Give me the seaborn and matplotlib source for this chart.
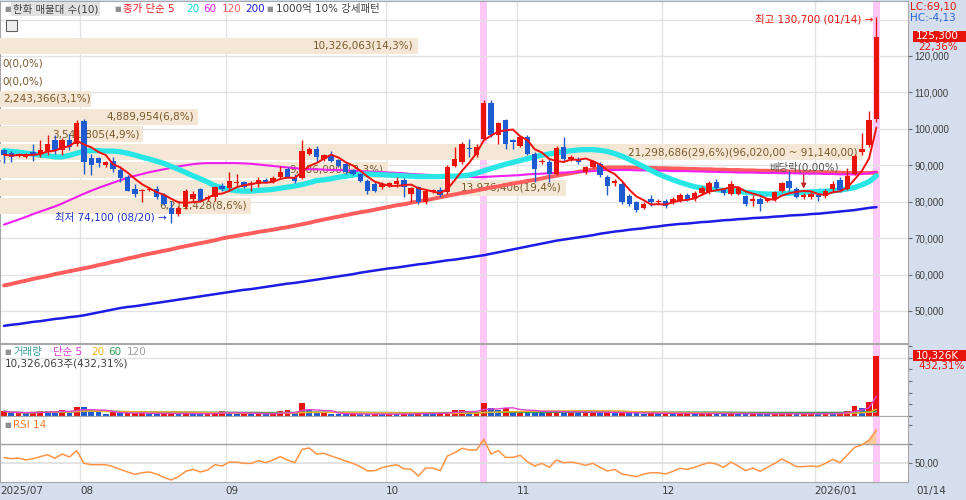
import numpy as np
import pandas as pd
import seaborn as sns
import matplotlib.pyplot as plt
from matplotlib.patches import Rectangle

sns.set_style('white')
plt.rcParams['font.family'] = ['DejaVu Sans', 'Noto Sans CJK KR']

W, H = 966, 500

# 일봉 (천원 단위), 2025/07/17 ~ 2026/01/14
open_k = [94.3, 93.3, 92.7, 92.2, 93.6, 93.1, 93.6, 96.8, 94.1, 96.8,
          95.9, 102.1, 92.0, 92.0, 90.1, 91.3, 88.8, 86.9, 83.5, 83.0,
          83.2, 83.5, 81.9, 78.3, 76.6, 78.6, 80.7, 83.5, 80.7, 81.2,
          84.4, 83.8, 85.1, 85.3, 84.9, 84.9, 86.0, 85.3, 86.7, 89.0,
          86.9, 86.5, 93.1, 94.5, 91.8, 92.7, 91.5, 90.4, 88.7, 87.6,
          85.8, 84.9, 84.0, 84.4, 84.9, 86.0, 82.1, 84.0, 79.8, 82.9,
          83.2, 82.6, 89.9, 90.8, 94.8, 92.7, 97.3, 107.1, 98.2, 102.5,
          96.8, 95.4, 97.7, 93.0, 90.8, 90.8, 87.6, 95.0, 91.8, 91.8,
          88.1, 89.6, 90.4, 86.7, 85.1, 84.9, 81.5, 79.8, 78.3, 80.7,
          79.8, 80.3, 79.8, 80.3, 81.9, 80.7, 82.3, 82.6, 85.5, 83.2,
          82.1, 82.1, 81.5, 80.3, 80.7, 80.1, 80.7, 82.9, 85.8, 83.5,
          81.4, 81.2, 81.9, 81.6, 83.5, 86.0, 83.5, 87.7, 93.7, 95.6,
          102.6]
high_k = [94.6, 94.0, 93.5, 93.3, 95.9, 96.8, 98.2, 98.2, 97.5, 98.6,
          102.3, 102.8, 93.1, 92.4, 91.3, 92.2, 89.9, 87.4, 84.9, 83.5,
          84.0, 84.4, 82.5, 80.3, 78.8, 83.5, 82.8, 83.8, 81.7, 84.4,
          85.0, 88.1, 87.6, 85.8, 85.8, 86.7, 86.5, 87.0, 89.9, 89.5,
          87.5, 96.8, 95.0, 95.4, 93.1, 93.9, 91.8, 90.8, 89.0, 88.0,
          86.2, 85.3, 85.3, 85.5, 86.7, 86.5, 84.0, 84.4, 83.5, 83.5,
          84.0, 90.0, 95.0, 96.4, 97.3, 95.9, 107.8, 107.8, 101.9, 102.8,
          97.3, 98.2, 98.2, 93.6, 91.8, 91.8, 95.4, 97.7, 92.9, 92.2,
          89.9, 91.5, 90.8, 87.2, 86.2, 85.3, 82.0, 80.3, 79.8, 81.7,
          80.7, 80.7, 81.2, 82.3, 82.3, 82.8, 84.4, 85.8, 86.2, 83.8,
          85.8, 84.4, 81.9, 81.7, 81.2, 81.0, 83.0, 85.5, 88.5, 83.9,
          82.3, 82.6, 82.3, 83.5, 85.6, 86.7, 89.3, 93.0, 98.9, 104.9,
          130.7]
low_k = [90.5, 90.8, 92.3, 91.9, 91.3, 92.2, 92.7, 93.1, 92.7, 94.1,
         95.4, 87.6, 87.4, 89.6, 89.5, 88.1, 85.3, 82.8, 81.2, 79.8,
         82.8, 80.7, 79.0, 74.1, 76.2, 78.0, 80.2, 79.8, 80.2, 80.3,
         83.0, 83.0, 84.4, 83.7, 83.0, 84.0, 85.0, 85.0, 86.3, 86.5,
         85.0, 86.2, 92.7, 90.8, 91.3, 90.8, 89.5, 87.6, 87.2, 85.3,
         82.1, 82.6, 83.5, 84.0, 84.0, 81.4, 79.8, 79.5, 79.5, 82.5,
         81.2, 82.0, 89.5, 90.4, 92.2, 92.2, 96.8, 97.7, 95.9, 94.5,
         94.5, 95.0, 92.7, 85.3, 90.4, 85.3, 87.2, 91.3, 91.3, 90.4,
         87.6, 89.2, 86.7, 81.7, 84.4, 79.4, 78.9, 77.3, 77.9, 78.9,
         79.4, 78.4, 79.4, 79.8, 80.3, 80.3, 81.9, 82.1, 83.3, 81.9,
         81.7, 81.7, 78.9, 78.9, 77.5, 79.8, 80.3, 82.6, 83.0, 81.0,
         80.7, 80.7, 80.3, 80.9, 82.6, 82.6, 83.2, 87.2, 92.8, 95.1,
         101.8]
close_k = [92.9, 92.4, 93.1, 92.9, 92.9, 94.1, 95.9, 94.2, 97.0, 95.0,
           101.6, 90.8, 90.2, 90.6, 90.8, 89.0, 86.5, 83.0, 82.1, 83.3,
           83.5, 81.2, 79.4, 76.6, 78.4, 82.8, 82.1, 80.3, 81.2, 84.0,
           83.5, 85.8, 85.3, 84.1, 85.1, 86.0, 85.5, 86.5, 88.1, 86.9,
           85.6, 93.9, 94.5, 92.2, 92.7, 91.3, 89.9, 88.1, 87.6, 85.8,
           83.0, 83.0, 84.9, 85.0, 85.8, 84.0, 83.8, 79.8, 83.0, 83.2,
           81.9, 89.5, 91.8, 95.9, 94.5, 95.0, 107.1, 98.2, 101.6, 95.9,
           96.3, 97.7, 93.1, 89.0, 91.3, 87.6, 94.8, 91.8, 92.4, 90.8,
           89.5, 91.1, 87.2, 84.4, 85.8, 79.8, 79.4, 77.7, 79.4, 79.8,
           80.3, 78.9, 80.7, 81.9, 80.7, 82.3, 83.8, 85.1, 83.8, 82.3,
           84.9, 83.8, 79.4, 80.7, 79.4, 80.6, 82.6, 85.1, 83.8, 81.4,
           81.8, 82.1, 81.2, 82.9, 84.9, 83.2, 87.0, 92.5, 94.5, 102.4,
           125.3]
# 거래량 (천주)
volume_k = [820, 480, 520, 450, 700, 820, 800, 700, 1100, 480,
            1600, 1500, 780, 760, 360, 620, 450, 480, 500, 520,
            360, 340, 420, 600, 360, 460, 340, 320, 450, 640,
            780, 460, 400, 450, 400, 460, 300, 350, 780, 950,
            460, 2300, 950, 460, 480, 400, 350, 340, 400, 300,
            290, 350, 300, 350, 330, 400, 350, 560, 450, 400,
            450, 720, 950, 1000, 620, 700, 2300, 1400, 1050, 1400,
            850, 900, 850, 780, 660, 750, 800, 680, 720, 620,
            660, 700, 580, 640, 520, 580, 550, 470, 420, 500,
            450, 530, 400, 420, 450, 400, 420, 470, 400, 380,
            420, 400, 380, 420, 400, 350, 380, 400, 450, 380,
            400, 420, 380, 450, 420, 550, 900, 1740, 1450, 2388.6,
            10326.063]
# 이동평균 (천원)
ma20_k = [94.0, 93.8, 93.6, 93.3, 93.1, 92.8, 92.6, 92.3, 92.3, 92.7,
          93.3, 93.9, 94.0, 94.0, 93.9, 93.9, 93.7, 93.3, 92.8, 92.2,
          91.7, 91.1, 90.5, 89.7, 88.9, 88.0, 87.1, 86.3, 85.4, 84.4,
          83.8, 83.3, 83.0, 82.9, 82.9, 83.1, 83.2, 83.4, 83.7, 84.0,
          84.3, 84.7, 85.2, 85.8, 86.0, 86.3, 86.7, 87.0, 87.3, 87.6,
          87.6, 87.5, 87.4, 87.3, 87.2, 87.1, 87.0, 86.9, 86.9, 86.9,
          86.9, 87.0, 87.0, 87.1, 87.3, 87.8, 88.5, 89.1, 89.7, 90.3,
          90.8, 91.3, 91.8, 92.3, 92.8, 93.1, 93.4, 93.7, 94.0, 94.2,
          94.3, 94.3, 94.1, 93.8, 93.2, 92.5, 91.6, 90.6, 89.6, 88.6,
          87.6, 86.8, 86.0, 85.3, 84.7, 84.1, 83.8, 83.5, 83.3, 83.1,
          83.0, 82.8, 82.6, 82.4, 82.2, 82.1, 82.1, 82.2, 82.3, 82.5,
          82.6, 82.7, 82.8, 82.9, 83.0, 83.2, 83.5, 83.9, 84.6, 85.5,
          87.1]
ma60_k = [73.7, 74.4, 75.1, 75.8, 76.6, 77.3, 78.0, 78.7, 79.5, 80.4,
          81.3, 82.2, 83.0, 83.8, 84.5, 85.2, 85.9, 86.6, 87.1, 87.6,
          88.1, 88.5, 88.9, 89.3, 89.7, 90.0, 90.3, 90.5, 90.6, 90.6,
          90.6, 90.6, 90.6, 90.5, 90.4, 90.2, 90.0, 89.8, 89.6, 89.4,
          89.2, 89.0, 88.9, 88.9, 88.8, 88.7, 88.7, 88.6, 88.5, 88.4,
          88.3, 88.2, 88.1, 88.0, 87.9, 87.8, 87.6, 87.5, 87.4, 87.3,
          87.2, 87.1, 87.0, 86.9, 86.8, 86.7, 86.8, 86.9, 87.0, 87.1,
          87.2, 87.3, 87.5, 87.6, 87.7, 87.8, 87.9, 88.0, 88.1, 88.2,
          88.3, 88.4, 88.6, 88.7, 88.7, 88.7, 88.7, 88.6, 88.6, 88.6,
          88.5, 88.5, 88.4, 88.4, 88.4, 88.3, 88.3, 88.2, 88.2, 88.1,
          88.1, 88.0, 88.0, 88.0, 87.9, 87.9, 87.9, 87.8, 87.8, 87.8,
          87.7, 87.7, 87.7, 87.6, 87.6, 87.5, 87.5, 87.5, 87.6, 87.8,
          88.2]
ma120_k = [57.0, 57.4, 57.9, 58.3, 58.8, 59.2, 59.6, 60.1, 60.5, 60.9,
           61.3, 61.7, 62.1, 62.6, 63.0, 63.5, 63.9, 64.4, 64.8, 65.3,
           65.7, 66.1, 66.5, 66.9, 67.4, 67.8, 68.2, 68.6, 69.0, 69.4,
           69.9, 70.3, 70.6, 71.0, 71.3, 71.7, 72.0, 72.3, 72.7, 73.0,
           73.4, 73.8, 74.2, 74.7, 75.1, 75.5, 75.9, 76.3, 76.7, 77.1,
           77.4, 77.8, 78.2, 78.6, 79.0, 79.3, 79.7, 80.1, 80.4, 80.8,
           81.2, 81.6, 82.0, 82.4, 82.7, 83.1, 83.5, 83.9, 84.2, 84.6,
           85.0, 85.3, 85.7, 86.0, 86.4, 86.8, 87.1, 87.5, 87.8, 88.2,
           88.5, 88.9, 89.2, 89.4, 89.4, 89.4, 89.4, 89.3, 89.3, 89.3,
           89.2, 89.2, 89.1, 89.1, 89.0, 89.0, 88.9, 88.9, 88.8, 88.8,
           88.7, 88.7, 88.6, 88.6, 88.5, 88.5, 88.4, 88.4, 88.3, 88.3,
           88.2, 88.2, 88.1, 88.1, 88.0, 88.0, 87.9, 87.9, 87.9, 87.9,
           88.0]
ma200_k = [45.9, 46.2, 46.4, 46.7, 47.0, 47.2, 47.5, 47.8, 48.0, 48.3,
           48.5, 48.8, 49.2, 49.6, 50.0, 50.4, 50.8, 51.1, 51.3, 51.6,
           51.9, 52.2, 52.5, 52.8, 53.1, 53.4, 53.7, 54.0, 54.3, 54.6,
           54.9, 55.2, 55.5, 55.8, 56.0, 56.3, 56.6, 56.9, 57.2, 57.5,
           57.7, 58.0, 58.3, 58.6, 58.9, 59.2, 59.5, 59.8, 60.1, 60.5,
           60.8, 61.1, 61.4, 61.7, 61.9, 62.2, 62.5, 62.8, 63.0, 63.3,
           63.6, 63.9, 64.1, 64.4, 64.7, 65.0, 65.3, 65.7, 66.1, 66.5,
           66.9, 67.3, 67.7, 68.1, 68.5, 68.9, 69.3, 69.6, 69.9, 70.2,
           70.5, 70.8, 71.2, 71.5, 71.8, 72.0, 72.3, 72.5, 72.7, 73.0,
           73.2, 73.5, 73.7, 73.9, 74.0, 74.2, 74.4, 74.5, 74.7, 74.9,
           75.0, 75.2, 75.3, 75.5, 75.6, 75.7, 75.9, 76.0, 76.2, 76.3,
           76.4, 76.6, 76.7, 76.9, 77.1, 77.3, 77.5, 77.7, 78.0, 78.3,
           78.5]
rsi14 = [55.4, 54.3, 55.0, 52.9, 54.3, 56.5, 58.6, 54.7, 59.3, 56.1,
         62.9, 49.3, 47.9, 47.9, 47.9, 45.8, 42.9, 40.1, 37.6, 39.3,
         40.1, 37.9, 34.4, 31.5, 35.1, 40.8, 42.9, 40.1, 42.2, 47.9,
         46.5, 50.7, 50.7, 49.3, 49.3, 52.2, 50.0, 52.9, 56.5, 52.9,
         50.0, 64.3, 65.7, 59.3, 60.0, 57.2, 54.7, 51.8, 49.3, 45.8,
         41.1, 41.5, 44.7, 46.5, 47.9, 43.6, 42.9, 35.8, 44.3, 44.3,
         41.5, 57.2, 60.7, 65.4, 63.6, 63.6, 75.0, 59.3, 62.9, 55.7,
         55.7, 57.9, 51.1, 46.5, 49.3, 45.0, 52.9, 50.0, 50.7, 49.3,
         47.2, 49.3, 45.0, 41.1, 42.9, 37.9, 36.5, 35.1, 37.9, 39.3,
         39.3, 37.9, 40.8, 44.0, 42.9, 45.0, 47.9, 50.0, 48.6, 45.0,
         50.7, 46.5, 41.5, 44.3, 40.8, 45.0, 49.3, 54.0, 50.0, 45.8,
         45.8, 46.5, 45.8, 49.3, 53.6, 50.0, 58.2, 66.4, 68.9, 74.3,
         85.0]

month_start = [11, 31, 53, 71, 91, 112]
month_label = ['08', '09', '10', '11', '12', '2026/01']
first_label = '2025/07'
last_date = '01/14'
high_date, low_date = '01/14', '08/20'
highlight_days = [66, 120]
dividend_day = 110

# 매물대 (10구간)
profile_vol = [10326063, 0, 0, 2243366, 4889954, 3541805, 21298686, 9586090, 13976406, 6211428]
profile_top = 125300
profile_step = 4880

RED = '#e8140c'
BLUE = '#1f5bd0'
GRID = '#e3e3e3'
BORDER = '#a8a8a8'
STRIP = '#d4deed'
TICKFONT = ['Liberation Sans', 'DejaVu Sans']

o = np.array(open_k) * 1000
hi = np.array(high_k) * 1000
lo = np.array(low_k) * 1000
c = np.array(close_k) * 1000
vol = np.array(volume_k) * 1000
n = len(c)
idx = np.arange(n)
XLIM = (-0.55, 124.35)
PLIM = (41200, 135100)

ma5 = pd.Series(c).rolling(5, min_periods=1).mean().values


def rect(x0, y0, x1, y1):
    return [x0 / W, 1 - y1 / H, (x1 - x0) / W, (y1 - y0) / H]


fig = plt.figure(figsize=(W / 100, H / 100), dpi=100, facecolor=STRIP)


def ftext(x, y, s, **kw):
    kw.setdefault('fontsize', 7.5)
    fig.text(x / W, 1 - y / H, s, va='center', ha=kw.pop('ha', 'left'), **kw)


# 배경 (그리드, 강조 구간)
ax_bg = fig.add_axes(rect(0, 1, 908, 343), zorder=0)
ax_bg.set_facecolor('white')
ax_bg.set_xlim(XLIM)
ax_bg.set_ylim(PLIM)
for p in range(50000, 140000, 10000):
    ax_bg.axhline(p, color=GRID, lw=1)
for s in month_start:
    ax_bg.axvline(s - 0.5, color=GRID, lw=1)
for d in highlight_days:
    ax_bg.axvspan(d - 0.5, d + 0.5, color='#ffc8f6', lw=0)
ax_bg.set_xticks([])
ax_bg.set_yticks([])
for sp in ax_bg.spines.values():
    sp.set_color(BORDER)

# 매물대
ax_prof = fig.add_axes(rect(0, 1, 908, 343), zorder=1)
ax_prof.patch.set_visible(False)
ax_prof.set_ylim(PLIM)
ax_prof.set_xlim(0, max(profile_vol) * 908 / 862)
ax_prof.axis('off')
total = sum(profile_vol)
centers = [profile_top - profile_step * (k + 0.5) for k in range(len(profile_vol))]
ax_prof.barh(centers, profile_vol, height=profile_step * 0.9, color='#f5e7d5', lw=0)
for k, v in enumerate(profile_vol):
    pct = v / total * 100
    lab = f"{v:,}({pct:.1f}%)".replace('.', ',')
    if v == max(profile_vol):
        up_p = profile_top - profile_step * k
        lab += f"({up_p:,}.00 ~ {up_p - profile_step:,}.00)".replace('.', ',')
    if pct < 4:
        ax_prof.annotate(lab, (0, centers[k]), xytext=(2, 0), textcoords='offset points',
                         ha='left', va='center', fontsize=7.5, color='#7a5a2c')
    else:
        ax_prof.annotate(lab, (v, centers[k]), xytext=(-3, 0), textcoords='offset points',
                         ha='right', va='center', fontsize=7.5, color='#7a5a2c')

# 캔들 + 이동평균
ax = fig.add_axes(rect(0, 1, 908, 343), zorder=2)
ax.patch.set_visible(False)
ax.set_xlim(XLIM)
ax.set_ylim(PLIM)
sns.lineplot(x=idx, y=np.array(ma200_k) * 1000, ax=ax, color='#1c1ce6', lw=1.8, zorder=2)
sns.lineplot(x=idx, y=np.array(ma120_k) * 1000, ax=ax, color='#ff5c5c', lw=2.8, zorder=2)
sns.lineplot(x=idx, y=np.array(ma60_k) * 1000, ax=ax, color='#f020f0', lw=1.5, zorder=2)
sns.lineplot(x=idx, y=np.array(ma20_k) * 1000, ax=ax, color='#28e6e6', lw=3.8, zorder=2)
up = c >= o
ccol = np.where(up, RED, BLUE)
ax.vlines(idx, lo, hi, colors=ccol, lw=1, zorder=3)
ax.bar(idx, np.maximum(np.abs(c - o), 250), bottom=np.minimum(o, c), width=0.74,
       color=ccol, lw=0, zorder=3)
sns.lineplot(x=idx, y=ma5, ax=ax, color='#f01010', lw=1.4, zorder=4)

i_hi = int(np.argmax(hi))
i_lo = int(np.argmin(lo))
ax.text(i_hi - 0.45, hi[i_hi] - 500, f"최고 {int(round(hi[i_hi])):,} ({high_date}) →",
        ha='right', va='center', color=RED, fontsize=7.5, zorder=5)
ax.text(i_lo - 0.6, lo[i_lo] + 1600, f"최저 {int(round(lo[i_lo])):,} ({low_date}) →",
        ha='right', va='center', color='#2233c8', fontsize=7.5, zorder=5)
ax.annotate('', xy=(dividend_day, hi[dividend_day] + 500), xytext=(dividend_day, 88200),
            arrowprops=dict(arrowstyle='-|>', color='#c02828', lw=1, mutation_scale=7), zorder=5)
ax.text(dividend_day, 89400, '배당락(0,00%)', ha='center', va='center', color='#555555',
        fontsize=7.5, zorder=5)

ax.yaxis.tick_right()
ax.set_xticks([])
ticks = list(range(50000, 130000, 10000))
ax.set_yticks(ticks)
ax.set_yticklabels([f"{t:,}" for t in ticks])
ax.tick_params(axis='y', direction='out', length=3, width=0.8, color='#707070',
               labelsize=7, labelcolor='#404040', pad=1.5)
for lbl in ax.get_yticklabels():
    lbl.set_fontfamily(TICKFONT)
for sp in ax.spines.values():
    sp.set_visible(False)
ax.set_xlabel('')
ax.set_ylabel('')

# 거래량
ax_vol = fig.add_axes(rect(0, 344, 908, 416))
ax_vol.set_xlim(XLIM)
ax_vol.set_ylim(0, 12.34e6)
for s in month_start:
    ax_vol.axvline(s - 0.5, color=GRID, lw=1, zorder=0)
for d in highlight_days:
    ax_vol.axvspan(d - 0.5, d + 0.5, color='#ffc8f6', lw=0, zorder=0)
ax_vol.axhline(1e7, color=GRID, lw=1, zorder=0)
vcol = [RED] + [RED if vol[i] >= vol[i - 1] else BLUE for i in range(1, n)]
ax_vol.bar(idx, vol, width=0.8, color=vcol, lw=0, zorder=2)
vs = pd.Series(vol)
for win, col in [(120, '#b4b4b4'), (60, '#2fa050'), (20, '#f0b020'), (5, '#e040d0')]:
    sns.lineplot(x=idx, y=vs.rolling(win, min_periods=1).mean().values, ax=ax_vol,
                 color=col, lw=1, zorder=3)
ax_vol.yaxis.tick_right()
ax_vol.set_yticks(np.arange(0, 12.1e6, 2e6))
ax_vol.set_yticklabels([])
ax_vol.tick_params(axis='y', direction='out', length=3, width=0.8, color='#707070')
ax_vol.set_xticks([])
ax_vol.set_ylabel('')
for sp in ax_vol.spines.values():
    sp.set_color(BORDER)

# RSI
ax_rsi = fig.add_axes(rect(0, 416, 908, 482))
ax_rsi.set_xlim(XLIM)
ax_rsi.set_ylim(29.4, 99.9)
for s in month_start:
    ax_rsi.axvline(s - 0.5, color=GRID, lw=1, zorder=0)
for d in highlight_days:
    ax_rsi.axvspan(d - 0.5, d + 0.5, color='#ffc8f6', lw=0, zorder=0)
ax_rsi.axhline(50, color='#dedede', lw=1.2, zorder=1)
ax_rsi.axhline(70, color='#a0a0a0', lw=1, zorder=1)
rsi_arr = np.array(rsi14)
ax_rsi.fill_between(idx, 70, rsi_arr, where=rsi_arr > 70, interpolate=True,
                    color='#fcc9a0', lw=0, zorder=2)
sns.lineplot(x=idx, y=rsi_arr, ax=ax_rsi, color='#ff9448', lw=1.1, zorder=3)
ax_rsi.yaxis.tick_right()
ax_rsi.set_yticks([50, 70, 90])
ax_rsi.set_yticklabels(['50,00', '', ''])
ax_rsi.tick_params(axis='y', direction='out', length=3, width=0.8, color='#707070',
                   labelsize=7, labelcolor='#404040', pad=1.5)
for lbl in ax_rsi.get_yticklabels():
    lbl.set_fontfamily(TICKFONT)
ax_rsi.set_xticks([XLIM[0]] + [s - 0.5 for s in month_start])
ax_rsi.set_xticklabels([first_label] + month_label)
ax_rsi.tick_params(axis='x', length=0, pad=3, labelsize=7.5, labelcolor='#404040')
for lbl in ax_rsi.get_xticklabels():
    lbl.set_ha('left')
ax_rsi.set_ylabel('')
for sp in ax_rsi.spines.values():
    sp.set_color(BORDER)

# 범례 / 라벨
ftext(4, 9, '■', color='#909090', fontsize=5)
ftext(13, 9, '한화 매물대 수(10)', color='#404040',
      bbox=dict(fc='#e2e2e2', ec='none', pad=1.2))
ftext(114, 9, '■', color='#909090', fontsize=5)
ftext(123, 9, '종가 단순 5', color='#ee2020')
ftext(186, 9, '20', color='#10d8e0')
ftext(203, 9, '60', color='#f020f0')
ftext(222, 9, '120', color='#ff6060')
ftext(245, 9, '200', color='#2020e0')
ftext(266, 9, '■', color='#909090', fontsize=5)
ftext(276, 9, '1000억 10% 강세패턴', color='#404040')
fig.add_artist(Rectangle((6 / W, 1 - 31 / H), 11 / W, 11 / H, transform=fig.transFigure,
                         fc='#eeeeee', ec='#606060', lw=0.8))

ftext(4, 352, '■', color='#909090', fontsize=5)
ftext(13, 352, '거래량', color='#3a9e9e')
ftext(53, 352, '단순 5', color='#e040d0')
ftext(91, 352, '20', color='#f0b020')
ftext(108, 352, '60', color='#2fa050')
ftext(127, 352, '120', color='#a0a0a0')
ftext(5, 363, f"{int(round(vol[-1])):,}주({vol[-1] / vol[-2] * 100:.2f}%)".replace('.', ','),
      color='#404040')
ftext(4, 425, '■', color='#909090', fontsize=5)
ftext(13, 425, 'RSI 14', color='#ff8030')

ftext(910, 7, 'LC:69,10', color=RED)
ftext(910, 18, 'HC:-4,13', color='#2a66d8')
fig.add_artist(Rectangle((913 / W, 1 - 42 / H), 53 / W, 11 / H, transform=fig.transFigure,
                         fc=RED, ec='none'))
ftext(916, 36.5, f"{int(round(c[-1])):,}", color='white')
ftext(918, 47, f"{(c[-1] / c[-2] - 1) * 100:.2f}%".replace('.', ','), color=RED)
fig.add_artist(Rectangle((913 / W, 1 - 361 / H), 53 / W, 11 / H, transform=fig.transFigure,
                         fc=RED, ec='none'))
ftext(916, 355.5, f"{int(round(vol[-1] / 1000)):,}K", color='white')
ftext(918, 366, f"{vol[-1] / vol[-2] * 100:.2f}%".replace('.', ','), color=RED)
ftext(916, 491, last_date, color='#404040')

fig.savefig('out.png', dpi=100, facecolor=fig.get_facecolor())
